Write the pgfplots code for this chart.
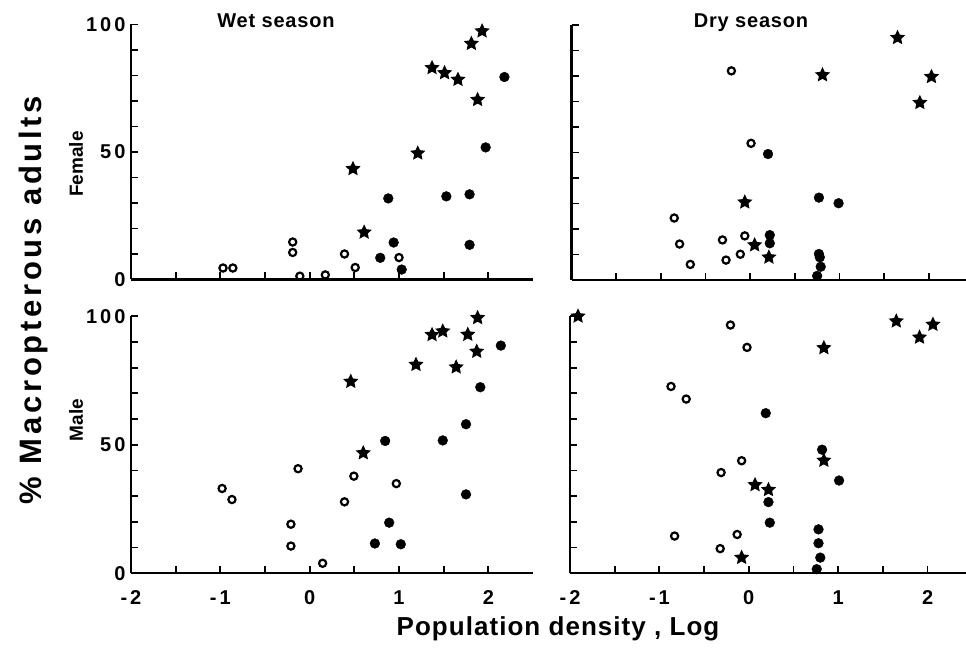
\documentclass[border=0pt]{standalone}
\usepackage{pgfplots}
\pgfplotsset{compat=1.18}
\usepackage{fontspec}
\setmainfont{Liberation Sans}
\pgfdeclareplotmark{fstar}{%
  \pgfpathmoveto{\pgfpointpolar{90}{\pgfplotmarksize}}%
  \pgfpathlineto{\pgfpointpolar{126}{0.48\pgfplotmarksize}}%
  \pgfpathlineto{\pgfpointpolar{162}{\pgfplotmarksize}}%
  \pgfpathlineto{\pgfpointpolar{198}{0.48\pgfplotmarksize}}%
  \pgfpathlineto{\pgfpointpolar{234}{\pgfplotmarksize}}%
  \pgfpathlineto{\pgfpointpolar{270}{0.48\pgfplotmarksize}}%
  \pgfpathlineto{\pgfpointpolar{306}{\pgfplotmarksize}}%
  \pgfpathlineto{\pgfpointpolar{342}{0.48\pgfplotmarksize}}%
  \pgfpathlineto{\pgfpointpolar{18}{\pgfplotmarksize}}%
  \pgfpathlineto{\pgfpointpolar{54}{0.48\pgfplotmarksize}}%
  \pgfpathclose
  \pgfusepathqfill
}
\pgfplotsset{
  panel/.style={
    scale only axis, anchor=south west,
    axis x line=bottom, axis y line=left,
    axis line style={line width=2.2pt, -},
    every tick/.style={line width=1.8pt, black},
    tick align=inside,
    major tick length=7pt, minor tick length=7pt,
    xmin=-2, ymin=0, ymax=100,
    xtick={-2,-1,0,1,2},
    minor x tick num=1,
    ytick={0,50,100},
    minor y tick num=4,
    clip=false,
    /pgf/number format/assume math mode=true,
    ticklabel style={font=\fontsize{20}{20}\selectfont\bfseries\addfontfeatures{LetterSpace=15}},
    yticklabel style={xshift=-2pt},
    xticklabel style={yshift=-14pt},
  },
  oc/.style={only marks, mark=o, mark size=3.6pt, black, mark options={line width=2.2pt}},
  fc/.style={only marks, mark=*, mark size=4.9pt, black},
  st/.style={only marks, mark=fstar, mark size=8pt, black},
}
\begin{document}
\begin{tikzpicture}[x=1pt,y=1pt]
\path[use as bounding box] (0,0) rectangle (966,655);

% Top-left: Wet season, Female
\begin{axis}[panel, at={(131pt,375.5pt)}, width=402pt, height=255pt, xmax=2.5,
  xticklabels={}, yticklabels={0,50,100}]
\addplot[oc] coordinates {(-0.97,4.5) (-0.86,4.5) (-0.19,14.7) (-0.19,10.6) (-0.11,1.3) (0.175,1.8) (0.39,10) (0.51,4.7) (1.0,8.6)};
\addplot[fc] coordinates {(0.88,31.8) (0.94,14.5) (0.79,8.5) (1.03,3.9) (1.53,32.6) (1.79,33.4) (1.79,13.6) (1.97,51.8) (2.18,79.4)};
\addplot[st] coordinates {(0.485,43.4) (0.61,18.5) (1.21,49.5) (1.37,83.0) (1.51,81.0) (1.66,78.4) (1.81,92.5) (1.93,97.4) (1.88,70.5)};
\end{axis}

% Top-right: Dry season, Female
\begin{axis}[panel, at={(571.5pt,375pt)}, width=394.8pt, height=255pt, xmax=2.42,
  xticklabels={}, yticklabels={}]
\addplot[oc] coordinates {(-0.21,82) (0.01,53.6) (-0.85,24.3) (-0.79,14.1) (-0.67,6.1) (-0.31,15.7) (-0.27,7.8) (-0.11,10.1) (-0.06,17.3)};
\addplot[fc] coordinates {(0.20,49.4) (0.22,17.6) (0.22,14.4) (0.77,32.3) (0.99,30.1) (0.77,10.2) (0.78,8.9) (0.79,5.2) (0.75,1.6)};
\addplot[st] coordinates {(-0.06,30.5) (0.05,13.7) (0.21,8.9) (0.81,80.4) (1.65,95.0) (2.03,79.7) (1.90,69.5)};
\end{axis}

% Bottom-left: Wet season, Male
\begin{axis}[panel, at={(131pt,81.7pt)}, width=402pt, height=257pt, xmax=2.5,
  xticklabels={-2,-1,0,1,2}, yticklabels={0,50,100}]
\addplot[oc] coordinates {(-0.98,33.0) (-0.87,28.7) (-0.13,40.7) (-0.21,19.1) (-0.21,10.6) (0.145,3.9) (0.39,27.8) (0.495,37.8) (0.97,34.9)};
\addplot[fc] coordinates {(0.845,51.5) (0.89,19.7) (0.73,11.6) (1.02,11.3) (1.49,51.7) (1.75,58.0) (1.75,30.7) (1.91,72.4) (2.14,88.6)};
\addplot[st] coordinates {(0.46,74.6) (0.60,46.8) (1.19,81.2) (1.37,92.8) (1.49,94.2) (1.77,92.9) (1.88,99.4) (1.87,86.3) (1.64,80.2)};
\end{axis}

% Bottom-right: Dry season, Male
\begin{axis}[panel, at={(570pt,81.7pt)}, width=396pt, height=257pt, xmax=2.43,
  xticklabels={-2,-1,0,1,2}, yticklabels={}]
\addplot[oc] coordinates {(-0.205,96.6) (-0.02,87.9) (-0.87,72.7) (-0.70,67.8) (-0.08,43.8) (-0.31,39.2) (-0.83,14.5) (-0.13,15.1) (-0.32,9.6)};
\addplot[fc] coordinates {(0.19,62.3) (0.82,48.1) (1.01,36.1) (0.22,27.7) (0.235,19.7) (0.78,17.1) (0.78,11.7) (0.80,6.1) (0.76,1.6)};
\addplot[st] coordinates {(-1.91,100) (0.84,87.7) (0.84,43.9) (0.07,34.4) (0.22,32.5) (-0.08,6.1) (1.65,98.1) (2.06,96.8) (1.91,91.8)};
\end{axis}

% Texts
\node[anchor=base, font=\fontsize{20}{20}\selectfont\bfseries\addfontfeatures{LetterSpace=4}] at (276,627) {Wet season};
\node[anchor=base, font=\fontsize{20}{20}\selectfont\bfseries\addfontfeatures{LetterSpace=4}] at (751,627) {Dry season};
\node[rotate=90, font=\fontsize{19}{19}\selectfont\bfseries] at (76,491) {Female};
\node[rotate=90, font=\fontsize{19}{19}\selectfont\bfseries] at (76,235) {Male};
\node[rotate=90, font=\fontsize{31}{31}\selectfont\bfseries\addfontfeatures{LetterSpace=12}] at (33,355) {\% Macropterous adults};
\node[anchor=base, font=\fontsize{26}{26}\selectfont\bfseries\addfontfeatures{LetterSpace=4}] at (558,19) {Population density , Log};
\end{tikzpicture}
\end{document}
